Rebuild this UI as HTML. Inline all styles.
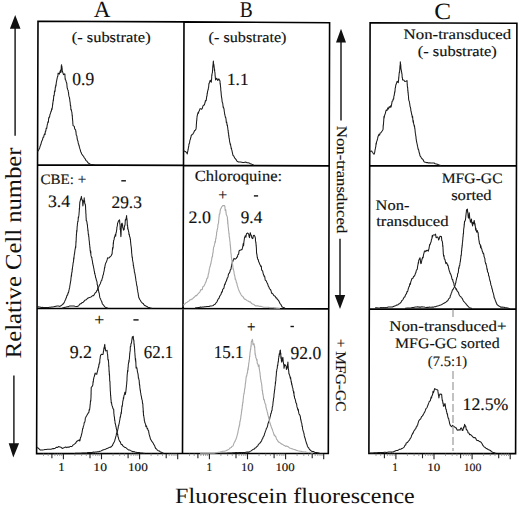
<!DOCTYPE html>
<html><head><meta charset="utf-8"><style>
html,body{margin:0;padding:0;background:#fff;}
svg{display:block;}
</style></head><body>
<svg width="520" height="506" viewBox="0 0 520 506">
<rect width="520" height="506" fill="#fff"/>
<g fill="none" stroke="#000" stroke-width="1.6">
<path d="M38 21.3 L184 21.9 L329.6 22.7 L328.3 453.5 L182.5 453.5 L36.6 453.6 Z M184 21.9 L182.5 453.5 M37.4 164.9 L329.2 165.9 M37 308.2 L328.9 308.9"/>
<path d="M370.1 22.8 L516.9 23.3 L515.6 453.6 L368.9 453.5 Z M369.7 165.6 L516.5 165.9 M369.4 309 L516 309.1"/>
</g>
<path d="M51.9 453.7V458.2 M63.4 453.7V459.3 M90.0 453.7V458.2 M101.5 453.7V459.3 M128.1 453.7V458.2 M139.6 453.7V459.3 M166.2 453.7V458.2 M177.7 453.7V459.3 M197.9 453.7V458.2 M209.4 453.7V459.3 M236.0 453.7V458.2 M247.5 453.7V459.3 M274.1 453.7V458.2 M285.6 453.7V459.3 M312.2 453.7V458.2 M323.7 453.7V459.3 M384.4 453.7V458.2 M395.9 453.7V459.3 M422.5 453.7V458.2 M434.0 453.7V459.3 M460.6 453.7V458.2 M472.1 453.7V459.3 M498.7 453.7V458.2 M510.2 453.7V459.3" stroke="#222" stroke-width="1.1" fill="none"/>
<path d="M43.5 453.7V455.9 M48.2 453.7V455.9 M54.9 453.7V455.9 M57.5 453.7V455.9 M59.7 453.7V455.9 M61.7 453.7V455.9 M74.9 453.7V455.9 M81.6 453.7V455.9 M86.3 453.7V455.9 M93.0 453.7V455.9 M95.6 453.7V455.9 M97.8 453.7V455.9 M99.8 453.7V455.9 M113.0 453.7V455.9 M119.7 453.7V455.9 M124.4 453.7V455.9 M131.1 453.7V455.9 M133.7 453.7V455.9 M135.9 453.7V455.9 M137.9 453.7V455.9 M151.1 453.7V455.9 M157.8 453.7V455.9 M162.5 453.7V455.9 M169.2 453.7V455.9 M171.8 453.7V455.9 M174.0 453.7V455.9 M176.0 453.7V455.9 M189.5 453.7V455.9 M194.2 453.7V455.9 M200.9 453.7V455.9 M203.5 453.7V455.9 M205.7 453.7V455.9 M207.7 453.7V455.9 M220.9 453.7V455.9 M227.6 453.7V455.9 M232.3 453.7V455.9 M239.0 453.7V455.9 M241.6 453.7V455.9 M243.8 453.7V455.9 M245.8 453.7V455.9 M259.0 453.7V455.9 M265.7 453.7V455.9 M270.4 453.7V455.9 M277.1 453.7V455.9 M279.7 453.7V455.9 M281.9 453.7V455.9 M283.9 453.7V455.9 M297.1 453.7V455.9 M303.8 453.7V455.9 M308.5 453.7V455.9 M315.2 453.7V455.9 M317.8 453.7V455.9 M320.0 453.7V455.9 M322.0 453.7V455.9 M376.0 453.7V455.9 M380.7 453.7V455.9 M387.4 453.7V455.9 M390.0 453.7V455.9 M392.2 453.7V455.9 M394.2 453.7V455.9 M407.4 453.7V455.9 M414.1 453.7V455.9 M418.8 453.7V455.9 M425.5 453.7V455.9 M428.1 453.7V455.9 M430.3 453.7V455.9 M432.3 453.7V455.9 M445.5 453.7V455.9 M452.2 453.7V455.9 M456.9 453.7V455.9 M463.6 453.7V455.9 M466.2 453.7V455.9 M468.4 453.7V455.9 M470.4 453.7V455.9 M483.6 453.7V455.9 M490.3 453.7V455.9 M495.0 453.7V455.9 M501.7 453.7V455.9 M504.3 453.7V455.9 M506.5 453.7V455.9 M508.5 453.7V455.9" stroke="#8a8a8a" stroke-width="0.9" fill="none"/>
<polyline points="37.5,151.8 38.8,149.8 39.2,148.8 39.7,148.0 40.1,146.2 40.5,145.4 40.9,144.3 41.3,142.6 41.7,141.1 42.1,140.6 42.5,139.8 42.9,137.9 43.3,137.1 43.7,137.1 44.1,134.9 44.6,133.9 45.0,134.6 45.4,131.1 45.8,131.2 46.2,128.3 46.4,128.2 46.7,128.5 46.9,127.3 47.2,125.0 47.4,124.3 47.6,123.7 47.9,121.8 48.1,122.0 48.4,122.2 48.6,118.8 48.9,117.4 49.1,117.9 49.4,116.7 49.6,117.0 49.9,114.7 50.3,113.7 50.7,112.6 51.1,111.0 51.4,111.1 51.7,108.6 52.0,109.4 52.3,107.5 52.4,106.8 52.6,104.8 52.7,103.4 52.8,104.4 52.9,102.2 53.1,101.7 53.2,99.8 53.4,100.6 53.6,97.7 53.8,95.4 54.1,95.8 54.3,94.5 54.5,91.0 54.7,91.8 54.9,91.7 55.1,90.6 55.2,88.6 55.4,86.8 55.6,87.3 55.8,84.8 56.0,86.0 56.2,83.5 56.4,81.9 56.6,81.1 56.8,79.9 57.0,79.1 57.2,77.8 57.4,77.1 57.7,76.6 57.9,75.8 58.1,73.1 59.3,74.1 59.6,73.3 59.8,72.5 60.1,71.3 60.8,69.9 60.9,72.4 61.1,68.7 61.2,70.2 61.3,66.0 61.5,65.2 61.6,64.7 61.7,65.9 61.9,66.5 62.0,69.2 62.1,67.8 62.3,71.8 62.4,71.1 63.5,74.7 64.7,73.8 64.9,74.0 65.0,76.8 65.2,79.5 65.3,78.5 65.5,79.7 65.8,80.3 66.0,80.9 66.2,82.0 66.5,82.5 66.8,83.5 67.0,85.9 67.2,88.2 67.4,88.2 67.6,89.2 67.9,90.0 68.1,90.0 68.3,91.9 68.5,92.3 68.7,94.6 68.9,95.9 69.2,97.0 69.4,97.3 69.6,99.0 69.7,98.7 69.8,100.3 69.9,101.3 70.1,101.9 70.2,102.9 70.3,104.2 70.4,105.6 70.7,105.6 70.9,109.6 71.2,109.3 71.4,110.2 71.7,111.7 71.9,112.2 72.0,113.7 72.1,114.7 72.2,115.9 72.3,114.9 72.4,118.2 72.5,118.6 72.6,120.0 72.7,120.9 72.8,121.8 72.8,123.6 72.9,123.5 73.0,125.1 73.1,125.6 74.3,126.4 74.7,128.9 75.2,129.5 75.6,129.7 75.8,131.2 75.9,131.8 76.0,132.1 76.2,134.7 76.4,135.2 76.7,135.7 76.9,136.1 77.2,139.0 77.4,139.6 77.6,140.5 77.9,140.9 78.1,142.2 78.4,143.8 78.6,143.9 78.9,145.3 79.1,145.7 79.4,147.2 79.6,147.7 79.9,148.9 80.3,149.9 80.6,151.4 81.0,152.2 81.3,152.8 81.7,154.0 82.3,154.8 82.9,155.6 83.5,156.1 84.1,157.5 84.8,158.3 85.4,159.2 86.0,160.6 86.8,161.0 87.6,162.3 88.4,163.0 89.7,164.0 90.9,164.3 92.1,164.5 93.3,164.7 94.5,164.8" fill="none" stroke="#1a1a1a" stroke-width="1.05" stroke-linejoin="round"/>
<polyline points="183.0,150.5 184.7,151.3 185.3,151.5 186.0,152.0 186.7,152.7 187.3,153.9 187.5,152.5 187.7,151.4 187.9,151.0 188.0,150.0 188.2,149.2 188.4,147.6 188.6,147.0 188.8,145.9 188.9,144.3 189.1,144.2 189.3,143.1 189.5,143.2 189.8,141.0 190.1,139.7 190.4,139.3 190.7,137.7 191.0,137.0 191.3,135.2 192.0,134.7 192.6,134.4 193.2,133.4 193.9,132.3 194.6,130.5 195.3,130.3 196.0,128.9 196.1,128.3 196.2,127.0 196.3,126.6 196.3,124.9 196.4,124.0 196.5,123.3 196.6,121.2 196.7,120.6 196.8,119.6 196.8,120.3 196.9,117.8 197.0,117.4 197.1,116.3 197.5,114.6 198.0,112.6 198.4,113.3 198.9,111.2 199.3,110.9 200.0,108.7 200.8,108.7 201.5,109.3 202.2,108.7 203.0,105.8 203.7,105.1 204.0,105.1 204.4,104.8 204.8,103.4 205.1,102.5 205.4,100.6 205.8,100.9 206.2,100.4 206.5,98.1 206.7,96.3 206.8,95.8 207.0,96.1 207.2,93.0 207.4,93.4 207.5,91.6 207.7,91.3 207.9,90.2 208.1,89.4 208.2,89.7 208.4,87.7 208.6,87.5 208.8,85.2 208.9,83.9 209.1,83.6 210.2,80.2 211.3,82.2 211.4,81.3 211.5,79.0 211.6,79.5 211.7,77.5 211.8,74.7 211.9,75.8 212.0,74.0 212.1,73.4 212.2,72.7 212.4,73.1 212.5,70.9 212.6,69.8 212.7,69.1 212.8,65.9 212.9,67.9 213.0,64.6 213.1,65.0 213.2,62.4 213.3,61.5 213.4,61.1 213.5,64.4 213.7,64.3 213.8,64.0 213.9,65.3 214.0,65.5 214.2,67.6 214.3,68.1 214.4,70.4 214.6,69.4 214.7,71.4 214.8,71.9 215.0,73.1 215.1,75.5 215.2,75.9 215.3,77.4 215.5,79.0 215.6,80.0 216.7,78.2 217.8,80.5 218.9,78.9 220.0,81.0 220.1,83.9 220.2,83.0 220.3,83.8 220.4,85.3 220.5,86.2 220.6,87.3 220.7,87.6 220.8,90.2 220.9,91.1 221.0,91.2 221.1,92.6 221.2,93.9 221.3,95.3 221.4,95.8 221.5,97.0 221.6,97.3 221.7,97.6 221.9,99.1 222.1,101.3 222.3,102.3 222.5,102.6 222.7,103.1 222.9,104.7 223.1,106.8 223.3,107.5 223.5,107.0 223.7,108.5 223.9,108.4 224.1,109.7 224.3,111.6 224.5,112.5 224.7,114.2 225.0,115.4 225.2,116.1 225.4,117.5 225.6,117.2 225.8,117.8 226.1,119.9 226.3,122.4 226.5,121.9 226.7,121.9 226.9,123.8 227.2,125.6 227.4,125.0 227.6,127.2 227.7,127.3 227.9,129.5 228.0,130.2 228.2,131.0 228.3,133.0 228.4,132.6 228.6,133.5 228.7,135.9 228.9,135.4 229.0,138.1 229.1,137.9 229.3,138.4 229.4,140.0 229.6,141.0 229.7,142.1 230.0,142.9 230.2,144.5 230.5,143.9 230.7,145.8 231.0,146.9 231.2,148.8 231.5,148.2 231.7,149.9 232.0,150.6 232.2,151.8 232.5,153.2 232.7,154.1 233.0,155.5 233.6,155.7 234.2,156.9 234.8,158.1 235.5,158.9 236.1,159.6 236.7,160.8 237.3,161.3 238.4,162.0 239.5,161.9 240.6,162.0 241.7,162.2 242.8,162.4 243.8,162.5 244.9,162.2 246.0,162.1 247.1,162.7 248.2,162.8 249.3,163.1 250.4,163.8 251.6,164.1 252.8,164.7 254.0,165.0" fill="none" stroke="#1a1a1a" stroke-width="1.05" stroke-linejoin="round"/>
<polyline points="370.0,151.5 371.7,151.0 372.4,152.2 373.0,153.0 373.6,154.0 374.3,154.0 374.5,153.4 374.7,152.2 374.9,151.1 375.0,150.2 375.2,149.3 375.4,148.4 375.6,147.2 375.8,146.8 375.9,145.3 376.1,143.1 376.3,144.2 376.5,142.4 376.8,141.1 377.1,140.5 377.4,139.4 377.7,138.2 378.0,136.6 378.3,136.1 378.9,134.3 379.6,135.2 380.2,132.9 380.9,132.7 381.6,131.7 382.3,130.7 383.0,129.4 383.1,128.8 383.2,125.3 383.3,126.4 383.3,125.3 383.4,124.1 383.5,124.4 383.6,121.8 383.7,121.4 383.8,119.0 383.8,119.6 383.9,117.3 384.0,116.3 384.1,118.1 384.5,115.8 385.0,114.2 385.4,113.2 385.9,110.9 386.3,110.1 387.0,110.5 387.8,107.9 388.5,109.0 389.2,106.7 390.0,107.4 390.7,105.7 391.1,107.0 391.4,105.5 391.8,103.3 392.1,101.3 392.4,101.2 392.8,100.8 393.1,99.1 393.5,99.2 393.7,98.8 393.8,96.9 394.0,95.6 394.2,95.6 394.4,93.7 394.5,93.6 394.7,91.6 394.9,92.3 395.1,89.6 395.2,87.9 395.4,87.9 395.6,86.3 395.8,85.0 395.9,84.7 396.1,84.5 397.2,81.2 398.3,82.6 398.4,81.5 398.5,80.5 398.6,80.3 398.7,77.3 398.8,78.1 398.9,76.3 399.0,75.5 399.1,74.2 399.2,73.0 399.4,71.8 399.5,71.7 399.6,72.4 399.7,70.3 399.8,69.1 399.9,67.7 400.0,65.6 400.1,65.7 400.2,66.2 400.3,61.7 400.4,62.9 400.5,64.1 400.7,64.3 400.8,65.9 400.9,67.5 401.0,69.4 401.2,69.5 401.3,70.8 401.4,70.5 401.6,72.1 401.7,72.4 401.8,73.6 402.0,73.9 402.1,76.0 402.2,77.8 402.3,77.2 402.5,78.7 402.6,80.0 403.7,80.0 404.8,81.4 405.9,81.3 407.0,80.6 407.1,81.7 407.2,84.4 407.3,85.3 407.4,86.8 407.5,87.0 407.6,88.0 407.7,87.4 407.8,91.1 407.9,90.1 408.0,92.8 408.1,91.9 408.2,93.4 408.3,95.1 408.4,95.6 408.5,96.4 408.6,98.8 408.7,99.6 408.9,100.4 409.1,100.8 409.3,101.4 409.5,102.7 409.7,103.7 409.9,105.1 410.1,106.7 410.3,107.0 410.5,107.5 410.7,108.6 410.9,111.0 411.1,111.2 411.3,112.3 411.5,113.3 411.7,114.5 412.0,115.2 412.2,117.0 412.4,117.7 412.6,116.2 412.8,119.1 413.1,122.2 413.3,120.4 413.5,122.3 413.7,123.9 413.9,124.3 414.2,126.1 414.4,125.5 414.6,126.5 414.7,128.2 414.9,128.9 415.0,129.7 415.2,131.7 415.3,132.6 415.4,133.4 415.6,134.2 415.7,135.6 415.9,136.4 416.0,137.1 416.1,138.8 416.3,139.7 416.4,140.6 416.6,141.9 416.7,142.1 417.0,143.5 417.2,144.4 417.5,146.2 417.7,146.8 418.0,148.5 418.2,149.3 418.5,149.5 418.7,150.2 419.0,151.8 419.2,152.5 419.5,153.5 419.7,154.2 420.0,155.8 420.6,156.6 421.2,157.6 421.8,158.5 422.5,159.1 423.1,159.7 423.7,161.1 424.3,162.0 425.4,162.2 426.5,162.6 427.6,162.6 428.7,163.1 429.8,162.8 430.9,162.9 431.9,162.9 433.0,162.9 434.1,163.0 435.2,163.7 436.3,163.9 437.4,164.2 438.6,164.8 439.8,165.2 441.0,165.6" fill="none" stroke="#1a1a1a" stroke-width="1.05" stroke-linejoin="round"/>
<polyline points="37.5,306.5 38.8,307.0 40.0,307.1 41.1,307.4 42.2,307.3 43.2,307.4 44.3,307.6 45.4,307.5 46.5,307.6 47.5,307.6 48.5,307.5 49.5,307.3 50.6,307.3 51.6,307.0 52.6,307.0 53.6,306.8 54.8,306.5 56.0,306.2 57.2,306.0 58.4,306.0 60.0,306.4 60.9,305.7 61.8,305.1 62.6,304.2 63.5,303.8 64.0,302.8 64.5,301.9 65.1,300.4 65.6,299.5 66.1,298.0 66.5,297.4 66.8,295.9 67.2,295.1 67.6,295.1 68.0,292.8 68.3,293.0 68.7,291.8 68.9,290.5 69.1,289.7 69.3,288.7 69.6,287.9 69.8,286.2 70.0,285.0 70.2,283.9 70.4,282.6 70.5,282.1 70.7,280.7 70.8,280.6 71.0,278.1 71.1,277.5 71.2,276.5 71.4,274.9 71.5,276.1 71.7,272.6 71.8,272.8 72.0,271.7 72.1,272.0 72.2,268.7 72.4,269.6 72.5,267.4 72.7,266.7 72.8,265.4 72.9,265.2 73.1,263.0 73.2,262.6 73.4,261.9 73.5,261.9 73.7,257.8 73.8,259.5 74.0,258.0 74.1,255.9 74.2,255.4 74.4,253.7 74.5,254.2 74.7,252.1 74.9,250.8 75.0,249.8 75.2,248.8 75.4,247.8 75.6,246.3 75.7,247.6 75.9,243.5 76.0,241.0 76.0,242.8 76.1,241.7 76.1,241.1 76.2,239.5 76.2,238.5 76.2,237.9 76.3,237.3 76.4,235.1 76.4,234.1 76.5,235.0 76.6,232.8 76.7,230.4 76.8,232.3 77.0,229.9 77.1,227.6 77.2,226.0 77.3,226.3 77.4,224.2 77.6,222.9 77.7,221.6 77.9,221.3 78.0,221.7 78.2,219.2 78.3,217.1 78.5,218.0 78.7,216.3 78.8,215.9 78.9,215.2 79.1,212.7 79.2,211.7 79.3,210.8 79.3,208.6 79.4,209.4 79.5,209.1 79.6,206.8 79.6,205.3 79.7,204.3 79.8,202.7 80.0,201.5 80.3,200.8 80.5,199.2 81.0,198.6 81.4,196.4 81.8,199.5 82.2,200.2 82.4,200.1 82.6,200.1 82.7,203.6 82.9,205.9 83.2,202.7 83.6,201.6 83.8,200.4 84.0,200.5 84.2,197.7 84.4,200.9 84.6,200.8 84.7,203.3 84.9,203.5 85.1,204.4 85.3,204.2 85.5,206.1 85.6,207.6 85.6,209.5 85.7,210.1 85.8,210.2 85.8,212.3 85.9,213.9 86.0,213.8 86.0,214.5 86.0,215.6 86.1,217.7 86.2,218.5 86.2,218.1 86.2,220.3 86.3,220.6 86.8,221.3 87.2,224.1 87.3,224.8 87.4,224.5 87.5,226.2 87.6,227.7 87.7,227.7 87.8,229.2 87.9,231.0 88.0,229.8 88.2,232.7 88.3,234.1 88.5,234.9 88.6,234.3 88.7,236.7 88.9,236.8 89.0,239.0 89.1,240.1 89.2,240.8 89.3,241.1 89.4,242.4 89.5,244.6 89.6,244.3 89.8,246.4 89.9,247.5 90.0,247.9 90.2,251.0 90.3,250.3 90.5,252.9 90.6,250.8 90.8,251.7 90.9,255.1 91.1,255.9 91.3,256.3 91.5,257.5 91.8,257.3 92.0,259.3 92.2,260.1 92.5,261.7 92.7,263.5 92.9,264.0 93.1,265.3 93.3,265.7 93.5,267.0 93.8,268.4 94.0,269.3 94.2,271.3 94.4,271.1 94.6,273.8 94.8,273.1 95.1,275.3 95.3,275.2 95.6,277.6 95.8,277.7 96.1,278.8 96.3,280.0 96.5,280.4 96.8,281.2 97.0,281.8 97.2,284.6 97.4,284.7 97.6,285.8 97.9,287.2 98.1,289.2 98.3,288.6 98.5,290.6 98.7,291.4 98.9,292.8 99.2,293.0 99.4,294.6 99.6,296.1 99.8,297.4 100.2,298.4 100.5,298.6 100.9,299.9 101.3,300.8 101.7,301.5 102.0,302.5 102.4,304.0 103.1,304.7 103.8,305.5 104.6,306.6 105.3,307.2 106.7,307.8 108.0,308.3" fill="none" stroke="#1a1a1a" stroke-width="1.05" stroke-linejoin="round"/>
<polyline points="62.0,308.0 63.1,308.0 64.1,307.6 65.2,307.3 66.2,307.1 67.3,306.8 68.3,306.7 69.4,306.1 70.4,305.9 71.6,305.9 72.7,305.9 73.8,306.1 75.0,306.3 76.2,306.4 77.3,306.5 78.2,306.1 79.0,305.3 79.9,304.1 80.8,303.8 81.7,303.0 82.5,302.4 83.3,302.2 84.2,301.1 85.1,300.0 86.0,300.0 86.8,299.2 87.7,298.2 88.8,297.7 90.0,297.3 91.1,296.9 92.0,296.1 92.8,295.6 93.7,295.6 94.6,294.0 95.1,293.1 95.6,292.5 96.2,292.2 96.7,290.6 97.2,290.6 97.7,288.4 98.2,287.5 98.8,286.9 99.3,285.4 99.8,284.5 100.2,284.0 100.5,283.2 100.9,281.9 101.3,280.7 101.7,280.6 102.0,279.1 102.4,277.8 102.6,277.6 102.9,275.4 103.1,275.0 103.4,274.3 103.6,273.0 103.9,271.6 104.1,271.2 104.3,269.7 104.4,268.6 104.6,267.4 104.8,267.8 105.0,265.6 105.1,265.8 105.3,264.3 105.8,262.8 106.2,262.4 106.7,261.1 107.1,259.9 107.6,257.8 108.5,258.0 109.3,257.7 110.2,256.6 110.8,256.1 111.3,255.6 111.9,254.0 112.1,254.1 112.3,250.5 112.4,250.4 112.6,247.6 112.8,249.1 112.9,247.5 113.1,247.7 113.2,245.0 113.3,242.6 113.4,244.2 113.6,241.1 113.7,240.1 113.9,240.0 114.1,239.6 114.3,237.7 114.5,237.3 115.5,234.2 115.7,236.2 115.9,233.5 116.2,232.5 116.4,231.8 116.6,230.3 116.8,229.2 116.9,227.1 117.1,226.7 117.2,226.2 117.4,225.6 117.5,223.5 117.9,222.6 118.2,221.7 118.6,220.8 119.5,219.8 119.6,220.5 119.7,221.4 119.8,224.0 120.0,224.3 120.1,225.2 120.2,229.4 120.3,228.1 120.4,229.2 120.4,229.6 120.5,229.6 120.6,232.6 120.7,232.6 120.7,233.7 120.8,235.6 120.9,236.7 121.0,235.0 121.0,233.8 121.1,234.6 121.1,232.2 121.2,229.8 121.2,230.4 121.2,228.8 121.3,227.7 121.3,227.3 121.4,225.8 121.5,226.5 121.5,223.8 122.2,223.2 122.4,225.2 122.6,224.8 122.7,227.4 122.9,227.6 123.5,230.1 124.0,229.7 124.2,229.6 124.3,226.7 124.5,226.6 124.6,225.9 124.8,225.2 124.9,225.4 125.1,224.1 125.3,220.0 125.6,219.4 125.8,220.1 126.2,218.3 126.6,215.6 126.7,218.4 126.8,218.0 127.0,219.3 127.1,220.0 127.2,222.1 127.3,225.5 127.5,224.9 127.6,225.6 127.7,229.0 127.9,227.5 128.0,228.9 128.3,229.8 128.5,231.5 128.8,232.0 129.0,234.6 129.3,234.1 129.5,236.0 129.7,236.8 129.9,236.9 130.1,237.9 130.3,239.8 130.4,238.9 130.6,241.9 130.7,242.9 130.8,244.0 130.9,244.9 131.1,246.3 131.2,246.7 131.3,248.5 131.4,247.8 131.5,250.8 131.6,250.5 131.6,252.6 131.7,253.0 131.8,254.0 131.9,254.8 132.1,257.4 132.2,256.7 132.4,257.7 132.5,259.7 132.7,260.8 132.9,261.7 133.0,262.0 133.2,263.3 133.3,265.4 133.5,265.1 133.7,267.2 133.9,268.3 134.0,269.0 134.2,269.2 134.4,272.1 134.6,272.1 134.8,273.1 134.9,273.8 135.1,274.5 135.3,276.0 135.5,277.3 135.6,277.7 135.8,279.3 136.0,280.9 136.2,281.5 136.3,282.3 136.5,283.9 136.7,284.9 136.8,285.9 137.0,286.1 137.2,286.7 137.3,288.9 137.5,289.6 137.7,290.5 137.8,291.9 138.0,292.6 138.2,293.5 138.4,295.5 138.5,295.3 138.7,297.2 139.2,298.3 139.7,299.5 140.3,300.1 140.8,301.2 141.3,301.9 142.2,303.0 143.1,303.4 143.9,304.6 144.8,305.6 145.9,306.1 146.9,306.5 148.0,307.2 149.1,307.5 150.6,308.0 152.0,308.3" fill="none" stroke="#1a1a1a" stroke-width="1.05" stroke-linejoin="round"/>
<polyline points="195.0,307.9 196.1,307.8 197.2,307.8 198.3,307.4 199.3,307.4 200.4,307.0 201.5,307.3 202.6,307.0 203.7,307.1 204.8,306.8 205.8,306.8 206.9,306.6 208.0,306.5 209.1,306.5 210.2,306.0 211.2,305.9 212.3,305.8 213.4,305.4 214.2,304.5 215.1,304.3 215.9,303.0 216.7,302.1 217.2,301.3 217.6,300.2 218.1,299.3 218.6,298.4 219.1,298.2 219.5,296.6 220.0,295.8 220.5,295.0 220.9,294.6 221.4,292.8 221.8,291.7 222.3,292.0 222.7,289.4 223.2,288.9 223.6,288.4 223.9,288.2 224.3,285.8 224.7,284.1 225.0,284.6 225.4,283.0 225.8,282.1 226.1,281.6 226.5,280.5 226.9,279.5 227.2,278.0 227.6,277.9 228.0,276.9 228.3,275.0 228.7,273.6 229.2,273.3 229.8,272.0 230.3,270.0 230.8,269.3 231.0,269.2 231.2,267.4 231.5,266.1 231.7,265.4 231.9,264.1 232.2,263.1 232.4,260.7 232.6,262.1 233.3,260.1 234.0,258.4 235.2,259.2 236.4,258.3 236.8,257.2 237.1,257.0 237.5,256.9 237.8,254.7 238.2,254.6 238.6,254.1 239.1,250.8 239.6,250.3 240.0,250.4 241.2,249.7 241.6,249.6 242.0,249.6 242.4,248.2 242.8,246.7 243.2,243.6 243.6,245.8 243.8,243.1 243.9,242.1 244.1,240.7 244.5,237.7 244.9,236.8 245.3,235.8 245.9,237.2 246.5,233.7 247.7,233.0 248.7,234.2 249.0,235.9 249.2,236.8 249.5,237.6 249.9,235.3 250.3,232.7 250.7,234.5 251.5,235.8 251.8,237.8 252.1,237.8 252.4,238.6 252.9,238.3 253.4,235.5 254.2,235.3 254.8,236.2 255.4,238.2 255.5,240.9 255.6,241.0 255.8,242.5 255.9,242.9 256.0,244.1 256.1,244.6 256.1,245.8 256.2,245.1 256.3,247.1 256.4,248.1 256.5,250.8 256.5,251.7 256.6,253.1 256.8,254.4 256.9,254.0 257.1,256.0 257.3,257.7 257.5,257.3 257.6,259.1 257.8,259.2 258.2,259.4 258.7,261.8 259.1,262.4 259.7,264.2 260.2,264.9 260.8,266.5 261.3,266.0 261.6,269.8 262.0,270.4 262.4,270.4 262.7,271.2 263.0,272.8 263.4,274.3 263.8,275.2 264.1,276.3 264.5,276.0 264.9,277.6 265.2,280.0 265.6,280.5 266.2,280.7 266.7,282.2 267.2,283.0 267.8,284.3 268.4,286.4 268.9,286.8 269.4,288.5 270.0,289.2 270.5,289.5 271.1,291.0 271.6,293.3 272.1,293.2 272.9,293.9 273.8,295.6 274.6,295.9 275.4,296.7 276.1,298.1 276.7,297.9 277.4,299.5 278.0,299.9 278.7,300.7 279.2,301.8 279.8,303.2 280.3,303.8 280.8,304.3 281.4,305.4 281.9,306.7 282.9,307.2 284.0,307.6 285.0,308.3" fill="none" stroke="#1a1a1a" stroke-width="1.05" stroke-linejoin="round"/>
<polyline points="375.0,308.0 376.0,307.8 377.0,307.8 378.0,307.9 379.0,308.0 380.0,307.8 381.1,307.5 382.1,307.7 383.1,307.5 384.1,307.7 385.1,307.5 386.1,307.7 387.1,307.4 388.2,307.1 389.2,306.9 390.3,306.9 391.3,306.9 392.4,306.9 393.5,306.4 394.6,305.9 395.6,305.7 396.7,305.0 397.8,305.0 398.7,303.9 399.6,303.7 400.4,302.8 401.3,301.8 401.9,300.5 402.5,300.1 403.1,299.2 403.7,298.0 404.3,297.1 404.9,296.9 405.4,295.2 405.9,294.4 406.5,293.7 407.0,291.5 407.5,291.8 407.9,290.4 408.3,288.7 408.7,287.6 409.0,286.4 409.4,286.4 409.8,283.7 410.2,284.5 410.6,283.0 410.9,281.5 411.3,280.5 411.6,279.5 412.0,278.5 412.9,278.2 413.7,276.3 414.3,276.3 414.9,275.0 415.5,273.1 415.9,272.6 416.2,270.8 416.6,270.2 416.9,269.4 417.3,269.2 417.5,267.0 417.7,265.9 417.9,265.0 418.1,263.8 418.3,262.2 418.5,263.2 418.7,260.5 419.4,259.1 420.0,257.7 420.3,259.8 420.6,262.5 420.9,263.6 421.2,263.3 421.5,261.8 421.8,260.5 422.0,258.7 422.3,258.9 422.6,257.2 423.1,257.7 423.5,254.9 423.9,253.3 424.4,251.5 425.1,250.7 425.8,251.6 426.5,250.5 427.2,250.2 428.0,250.8 428.3,251.2 428.6,249.7 428.9,249.1 429.1,247.9 429.4,246.2 429.7,244.4 430.0,244.9 430.3,243.8 430.6,242.8 430.9,242.4 431.2,241.3 431.5,239.1 431.9,238.9 432.2,235.5 432.6,236.9 432.9,235.2 433.3,235.1 435.1,234.8 435.5,234.1 435.8,235.7 436.1,237.8 436.5,237.3 437.7,237.0 438.1,237.7 438.6,240.0 439.3,238.5 440.0,236.2 441.3,236.6 441.5,237.0 441.8,240.6 442.0,240.6 442.3,241.5 442.5,242.7 442.6,243.4 442.7,245.7 442.8,246.7 442.9,245.5 443.0,248.2 443.1,249.4 443.1,250.1 443.2,251.4 443.3,253.7 443.4,253.7 443.5,255.4 443.6,256.3 444.0,255.5 444.3,259.0 444.7,259.0 445.0,259.7 445.4,261.6 445.9,263.6 446.5,262.6 447.1,263.7 447.6,265.4 448.0,265.1 448.3,266.6 448.7,268.5 449.1,270.0 449.4,271.0 449.8,272.2 450.2,273.5 450.5,273.6 450.9,274.8 451.3,275.9 451.6,277.0 452.0,278.9 452.4,279.9 452.7,279.4 453.1,281.8 453.4,282.1 453.8,283.1 454.1,285.4 454.6,286.4 455.0,287.2 455.5,287.9 456.0,289.4 456.5,288.9 456.9,290.7 457.4,291.0 457.9,291.9 458.5,292.4 459.0,294.6 459.6,295.6 460.1,296.1 460.7,296.5 461.3,297.6 462.0,298.1 462.6,299.3 463.3,300.7 463.9,301.6 464.6,302.1 465.2,303.0 465.9,303.7 466.5,304.6 467.2,305.4 467.9,306.2 468.6,306.8 469.3,307.7 470.6,308.0 472.0,308.5" fill="none" stroke="#1a1a1a" stroke-width="1.05" stroke-linejoin="round"/>
<polyline points="405.0,308.3 406.0,308.3 407.1,308.1 408.1,308.0 409.2,307.9 410.2,307.9 411.3,307.8 412.3,307.6 413.4,307.5 414.4,307.2 415.5,307.1 416.6,307.0 417.7,306.8 418.7,307.1 419.8,307.1 420.9,307.1 422.0,306.8 423.0,306.9 424.1,307.1 425.1,307.3 426.2,307.4 427.2,307.3 428.2,307.4 429.2,307.1 430.3,307.2 431.3,307.2 432.3,307.0 433.3,307.2 434.4,306.8 435.4,306.7 436.5,306.2 437.5,305.9 438.6,305.7 439.7,305.3 440.7,305.0 441.8,304.5 442.8,303.9 443.9,303.3 444.8,302.7 445.7,302.5 446.6,301.3 447.5,300.9 448.1,300.1 448.8,298.6 449.4,298.2 450.0,297.7 450.3,295.6 450.7,295.2 451.0,294.3 451.3,293.0 451.7,292.5 452.0,291.3 452.5,289.7 452.9,289.8 453.4,288.8 453.8,288.0 454.3,287.3 454.7,285.9 455.2,284.9 455.5,283.1 455.8,282.9 456.0,281.2 456.3,280.2 456.6,278.7 456.8,277.7 457.1,276.9 457.4,276.8 457.6,273.9 457.8,273.3 458.0,273.3 458.2,273.0 458.4,271.5 458.6,269.0 458.8,267.6 459.0,268.4 459.2,266.7 459.4,265.5 459.6,265.8 459.8,264.9 459.9,263.3 460.1,262.4 460.2,261.5 460.4,261.4 460.5,259.7 460.7,258.6 460.8,257.7 461.0,255.1 461.1,256.2 461.3,255.0 461.4,253.7 461.5,250.8 461.6,250.8 461.7,250.9 461.8,247.8 461.9,248.1 462.0,248.0 462.1,245.2 462.2,246.5 462.3,244.6 462.4,243.0 462.5,242.4 462.6,241.7 462.7,240.2 462.8,240.1 462.9,237.5 463.0,236.7 463.1,236.9 463.2,235.1 463.3,233.3 463.4,233.8 463.5,233.3 463.6,230.6 463.7,228.8 463.8,228.8 463.9,227.8 464.0,226.7 464.1,227.2 464.2,224.0 464.3,225.1 464.5,221.6 464.8,221.0 465.0,221.2 465.2,220.6 465.5,219.3 465.7,217.7 465.8,216.5 465.9,215.4 466.0,214.7 466.2,212.9 466.3,212.2 466.4,211.5 466.5,209.8 467.4,209.1 467.5,209.9 467.6,212.3 467.7,211.7 467.8,211.9 467.9,213.0 468.0,214.4 468.1,216.3 468.2,216.1 468.3,217.8 468.8,218.1 469.3,212.7 469.5,215.2 469.7,217.6 469.9,218.8 470.0,219.8 470.2,220.2 470.4,222.3 470.9,220.9 471.5,219.1 471.7,223.0 471.9,222.1 472.1,222.3 472.2,223.8 472.4,224.8 472.6,226.0 472.9,222.5 473.3,223.5 473.6,223.8 474.0,220.7 474.3,220.6 474.5,222.7 474.7,223.7 474.8,225.3 475.0,223.5 475.2,225.8 475.4,226.9 475.5,228.8 475.7,230.3 475.9,228.0 476.6,232.1 477.3,230.6 478.0,233.2 478.1,232.4 478.3,234.9 478.4,236.9 478.6,236.8 478.7,238.2 478.8,239.8 479.0,240.3 479.1,241.2 479.5,243.6 479.8,244.3 480.2,244.3 480.6,247.8 480.9,245.8 481.3,248.5 481.7,248.7 482.0,250.1 482.4,251.6 482.8,252.3 483.1,253.7 483.5,253.2 483.8,254.3 484.1,256.9 484.3,256.9 484.6,257.9 484.9,258.7 485.1,261.7 485.4,262.4 485.7,264.0 486.0,263.5 486.2,265.2 486.5,265.5 486.8,267.8 487.0,269.4 487.3,269.0 487.5,271.6 487.8,272.3 488.1,272.7 488.4,272.7 488.6,275.8 488.9,276.0 489.2,276.8 489.4,278.4 489.7,279.5 490.0,281.2 490.3,281.0 490.6,283.2 490.8,284.4 491.1,285.5 491.4,285.8 491.6,286.6 491.9,288.5 492.2,289.2 492.5,290.2 492.7,291.9 493.0,292.3 493.2,292.5 493.5,294.4 493.8,294.9 494.0,297.0 494.3,297.9 494.7,298.5 495.1,299.7 495.5,300.8 495.8,301.5 496.2,302.8 496.6,303.4 497.0,304.5 498.0,305.3 498.9,306.0 499.9,306.4 500.9,307.3 502.0,307.1 503.0,307.3 504.1,307.3 505.2,307.7 506.4,307.7 507.6,308.0 508.8,308.3 510.0,308.5" fill="none" stroke="#1a1a1a" stroke-width="1.05" stroke-linejoin="round"/>
<polyline points="37.5,447.1 38.1,448.3 38.9,448.7 39.6,449.5 40.4,450.1 41.6,450.0 42.7,450.0 43.9,449.8 45.0,449.5 46.2,449.4 47.4,449.2 48.5,449.3 49.6,449.2 50.8,449.3 51.9,448.9 53.0,448.6 54.2,448.6 55.3,448.2 56.5,447.2 57.6,447.4 58.8,446.5 59.9,447.1 61.1,447.3 62.2,448.4 63.4,447.9 64.5,447.6 65.7,447.1 66.8,447.6 68.0,446.9 69.1,447.3 70.2,446.4 71.4,446.6 72.3,446.1 73.2,444.9 74.1,444.4 75.0,443.7 75.8,443.0 76.6,441.5 77.4,441.0 78.6,440.3 79.2,439.9 79.7,441.0 80.0,440.3 80.3,438.7 80.6,437.2 80.9,437.2 81.2,435.8 81.5,434.7 81.8,433.5 82.1,432.2 82.4,430.3 82.7,428.3 83.0,428.5 83.3,426.5 83.6,425.9 83.9,424.9 84.2,422.8 84.5,422.2 84.8,422.2 85.1,420.4 85.4,417.8 85.7,417.5 86.1,416.6 86.5,416.0 86.9,415.2 87.8,413.7 88.6,412.7 88.9,412.3 89.2,409.5 89.5,410.1 89.8,408.3 90.0,406.6 90.1,405.3 90.2,404.7 90.4,402.3 90.5,400.5 90.6,401.3 90.8,401.0 90.9,398.5 91.0,397.5 91.0,396.4 91.0,394.6 91.1,394.7 91.1,394.0 91.1,392.3 91.1,392.0 91.2,389.4 91.2,389.4 91.2,387.5 91.7,386.8 92.1,386.5 92.6,385.5 92.8,385.1 92.9,383.9 93.1,381.2 93.3,382.3 93.5,378.8 93.7,379.0 93.8,378.3 94.0,377.0 94.3,376.5 94.7,375.0 95.1,373.0 95.4,373.7 96.8,374.3 97.1,372.3 97.3,372.1 97.6,370.9 97.8,370.1 98.1,368.2 98.3,367.9 98.5,366.6 98.7,367.3 98.9,364.4 99.1,365.0 99.3,362.7 99.5,362.9 99.7,363.0 99.9,359.2 100.1,358.6 100.3,356.5 100.5,355.6 101.0,354.7 101.6,354.3 103.0,354.4 103.2,353.4 103.5,350.9 103.7,350.6 103.9,347.9 104.1,349.0 104.3,347.0 104.6,345.1 104.8,344.4 105.0,346.9 105.2,347.5 105.3,349.2 105.5,349.1 105.7,350.9 106.9,350.5 107.1,350.3 107.3,352.8 107.4,353.9 107.6,354.5 107.8,357.1 107.9,359.5 108.1,359.9 108.2,359.6 108.4,359.6 108.5,361.6 108.6,362.3 108.7,364.1 108.7,366.2 108.8,366.1 108.9,365.8 109.0,369.5 109.0,369.4 109.1,371.7 109.2,370.7 109.3,374.8 109.3,372.4 109.4,374.6 109.5,376.3 109.5,374.2 109.6,376.9 109.6,377.2 109.7,381.1 109.8,381.2 109.8,380.8 109.9,381.1 110.0,382.1 110.0,384.8 110.1,385.0 110.1,387.0 110.2,387.3 110.2,387.4 110.3,391.3 110.4,391.3 110.4,391.3 110.5,392.7 110.5,395.0 110.6,395.6 110.7,395.1 110.8,398.1 110.9,397.6 110.9,399.5 111.0,399.2 111.1,400.6 111.2,402.7 111.5,402.4 111.8,404.6 112.1,406.0 112.4,406.4 113.0,408.7 113.6,409.1 113.7,409.6 113.8,411.5 113.8,412.8 113.9,413.8 114.0,414.0 114.1,415.7 114.2,416.5 114.4,416.6 114.5,418.1 114.7,420.6 114.8,419.9 115.0,421.7 115.1,423.4 115.3,423.3 115.5,424.5 115.7,425.1 115.9,426.7 116.1,426.8 116.3,428.6 116.5,429.0 116.7,430.5 116.9,430.5 117.1,431.8 117.3,433.8 117.5,434.6 117.7,434.0 118.0,436.9 118.3,437.0 118.6,438.6 118.9,439.7 119.2,440.2 119.5,441.2 120.1,441.5 120.7,443.2 121.3,444.5 121.9,444.4 122.9,445.9 123.8,446.6 124.8,447.4 125.7,447.5 126.6,448.4 127.5,449.1 128.4,449.9 129.6,450.0 130.7,450.6 131.9,451.2 132.9,451.7 133.9,451.6 135.0,452.0 136.0,452.2 137.1,452.4 138.2,452.6 139.3,452.6 140.4,452.9 141.6,452.9 142.7,453.1 143.8,453.2 145.0,453.5" fill="none" stroke="#1a1a1a" stroke-width="1.05" stroke-linejoin="round"/>
<polyline points="75.0,453.2 76.0,453.2 77.0,453.2 78.0,453.2 79.0,453.2 80.0,453.2 81.0,453.2 82.0,453.1 83.0,453.0 84.0,453.0 85.0,453.1 86.0,452.9 87.1,452.8 88.1,452.6 89.2,452.6 90.2,452.5 91.2,452.5 92.3,452.4 93.3,452.0 94.4,452.2 95.4,451.9 96.5,451.9 97.5,451.7 98.7,451.7 99.9,451.3 101.1,450.9 102.3,450.3 103.5,449.7 104.7,449.5 105.9,449.0 107.0,448.4 108.2,448.0 110.0,447.1 110.9,447.1 111.8,446.2 112.4,445.7 112.9,444.3 113.5,443.2 114.1,442.1 114.4,441.7 114.7,440.8 115.0,439.5 115.3,438.6 115.6,437.4 115.9,436.3 116.2,435.4 116.4,433.7 116.7,433.1 117.0,432.6 117.2,431.6 117.5,431.1 117.7,429.9 118.0,428.8 118.2,427.7 118.4,425.5 118.7,425.7 118.9,424.2 119.1,424.0 119.3,422.5 119.5,421.5 119.7,420.4 119.9,419.5 120.1,417.5 120.3,416.7 120.4,417.4 120.6,415.9 120.8,414.4 121.0,413.4 121.1,412.4 121.3,413.7 121.5,410.9 121.6,409.6 121.8,408.1 121.9,405.9 122.1,406.6 122.2,406.5 122.4,405.1 122.6,403.7 122.7,402.0 122.9,400.6 123.1,400.5 123.3,399.1 123.4,397.6 123.6,398.6 124.0,395.5 124.4,394.6 124.9,392.2 125.3,394.4 125.8,392.1 125.9,391.0 126.0,390.1 126.2,388.1 126.3,387.1 126.4,386.7 126.5,384.6 126.6,384.5 126.7,384.1 126.7,382.7 126.8,382.2 126.9,380.8 127.0,380.3 127.0,378.0 127.1,377.0 127.2,374.6 127.3,374.4 127.4,372.8 127.5,372.3 127.6,370.4 127.8,370.5 127.9,371.6 128.0,367.4 128.1,367.6 128.2,366.6 128.3,364.3 128.5,363.6 128.6,362.4 128.8,362.3 128.9,360.2 129.0,362.3 129.2,359.6 129.3,358.8 129.4,358.7 129.5,356.9 129.7,354.3 129.8,353.7 129.9,352.3 130.0,351.5 130.2,351.1 130.3,347.0 130.4,346.3 130.6,346.5 130.8,346.2 130.9,344.1 131.1,343.3 131.3,343.5 131.6,342.1 131.8,340.2 132.1,339.0 132.3,336.7 132.7,337.8 133.1,336.3 133.3,336.4 133.4,339.1 133.6,339.5 133.8,340.7 133.9,340.5 134.0,344.3 134.2,343.7 134.3,346.0 134.4,347.0 134.5,347.4 134.6,349.0 134.7,349.9 134.7,350.9 134.8,352.4 134.9,352.7 135.0,355.1 135.0,355.6 135.1,355.4 135.2,358.0 135.3,358.3 135.4,360.2 135.6,358.5 135.7,362.1 135.8,360.7 135.9,363.4 136.1,367.9 136.2,366.5 136.5,368.1 136.8,367.7 137.0,368.5 137.3,370.6 137.5,372.1 137.7,372.6 137.8,373.1 138.0,373.9 138.2,375.4 138.4,378.1 138.5,377.7 138.7,378.4 138.9,379.5 139.0,379.9 139.2,380.6 139.3,382.9 139.5,385.0 139.6,385.3 139.7,384.7 139.9,388.1 140.0,388.1 140.2,390.5 140.3,389.9 140.4,389.9 140.5,392.2 140.7,392.9 140.8,393.2 140.9,394.5 141.2,395.8 141.4,396.5 141.7,398.7 141.9,399.5 142.2,399.9 142.3,401.0 142.5,403.0 142.6,403.6 142.8,403.5 142.9,405.6 143.0,407.6 143.0,407.6 143.1,407.8 143.2,410.4 143.2,412.0 143.3,411.5 143.4,410.9 143.4,412.5 143.5,415.6 143.7,415.4 143.9,417.0 144.1,418.0 144.2,418.9 144.4,420.9 144.6,421.1 144.8,422.5 145.2,423.4 145.6,424.4 145.9,426.6 146.3,425.7 146.7,426.7 147.2,428.8 147.6,428.6 148.1,430.3 148.6,430.6 148.8,432.7 149.0,433.3 149.2,434.7 149.5,435.2 149.7,436.5 149.9,436.7 150.4,438.9 150.9,439.7 151.4,440.5 151.9,441.4 152.5,442.2 153.2,443.1 153.8,444.6 154.3,445.0 154.8,446.1 155.2,447.6 155.7,448.6 156.6,449.0 157.4,450.1 158.3,450.7 159.4,451.0 160.4,451.9 161.5,452.2 162.8,452.9 164.0,453.3" fill="none" stroke="#1a1a1a" stroke-width="1.05" stroke-linejoin="round"/>
<polyline points="220.0,453.2 221.1,453.2 222.2,453.2 223.3,453.2 224.4,453.2 225.5,453.2 226.6,453.2 227.6,453.1 228.7,453.0 229.7,453.0 230.8,452.9 231.8,453.1 232.9,452.8 233.9,452.8 234.9,452.8 235.9,452.6 236.9,452.6 237.9,452.7 238.9,452.6 239.9,452.5 240.9,452.5 241.9,452.4 242.9,452.6 243.9,452.5 245.0,452.6 246.0,452.2 247.0,452.1 248.1,452.1 249.1,452.1 250.1,451.4 251.1,450.9 252.1,450.1 253.1,449.3 254.1,449.3 255.0,448.1 255.9,447.7 256.9,446.5 257.8,445.8 258.4,444.5 259.1,443.8 259.7,443.4 260.3,442.7 261.0,441.6 261.6,440.9 262.1,439.1 262.6,438.8 263.0,437.5 263.5,436.4 264.0,435.9 264.4,434.5 264.7,433.3 265.1,432.4 265.4,431.4 265.8,430.4 266.1,429.5 266.5,428.2 266.9,427.8 267.2,427.1 267.6,425.8 267.9,424.0 268.3,422.8 268.6,422.3 269.0,420.9 269.3,420.8 269.6,419.2 269.8,418.3 270.1,416.7 270.4,416.2 270.7,414.5 270.9,413.2 271.2,413.3 271.5,411.5 271.7,410.7 271.9,410.6 272.1,410.0 272.2,407.9 272.4,406.5 272.6,406.3 272.8,405.4 272.9,404.0 273.1,401.9 273.2,401.1 273.3,401.1 273.5,398.5 273.6,398.3 273.7,398.1 273.9,396.9 274.0,394.5 274.1,393.8 274.3,392.8 274.4,391.1 274.5,391.1 274.6,389.3 274.8,389.5 274.9,387.1 275.0,386.5 275.2,385.5 275.3,385.0 275.4,382.0 275.5,383.8 275.6,381.8 275.7,381.1 275.8,381.1 275.9,379.0 275.9,378.4 276.0,377.1 276.1,376.8 276.2,375.6 276.3,375.0 276.4,373.0 276.5,371.1 276.7,371.2 276.9,369.0 277.1,369.0 277.3,367.6 277.5,365.0 277.7,365.6 277.9,364.0 278.0,362.7 278.2,361.2 278.3,362.3 278.4,361.5 278.5,358.8 278.7,357.9 278.8,357.1 278.9,355.9 279.1,356.4 279.2,353.9 279.6,354.8 280.0,350.5 280.4,350.1 280.5,353.7 280.7,353.6 280.8,353.0 280.9,358.2 281.0,357.8 281.2,358.5 281.3,356.8 281.4,361.1 281.6,361.3 281.7,362.1 282.1,360.7 282.5,358.1 282.9,357.4 283.1,360.0 283.2,361.6 283.4,362.5 283.5,363.3 283.7,364.2 283.9,365.6 284.0,368.3 284.2,367.4 284.8,364.6 285.4,365.3 285.7,365.5 285.9,365.8 286.2,366.6 286.4,369.4 286.7,369.1 286.9,368.5 287.1,366.9 287.3,367.7 287.5,365.2 287.7,364.2 287.9,362.1 288.0,363.4 288.1,366.6 288.2,365.7 288.3,368.6 288.4,369.1 288.6,370.0 288.7,370.9 288.8,371.7 288.9,373.8 289.0,373.9 289.1,373.6 289.8,375.8 290.4,378.6 290.6,377.3 290.8,379.3 291.0,380.2 291.2,382.2 291.4,381.6 291.6,384.4 291.8,383.4 292.0,385.4 292.2,385.4 292.4,387.4 292.6,387.9 292.9,388.2 293.1,390.7 293.4,390.8 293.6,393.1 293.9,391.7 294.1,395.9 294.4,395.7 294.6,398.2 294.9,398.5 295.1,399.1 295.4,399.9 295.6,400.8 295.9,402.8 296.2,403.2 296.5,403.4 296.8,405.3 297.0,406.9 297.3,407.7 297.6,408.9 297.9,410.1 298.3,409.3 298.6,412.0 299.0,413.9 299.3,414.4 299.7,414.9 300.0,415.5 300.4,416.9 300.6,419.4 300.8,419.1 301.0,420.7 301.2,421.4 301.4,422.8 301.6,422.8 301.8,423.5 302.0,425.3 302.2,426.6 302.4,426.3 302.6,428.5 302.8,429.7 303.1,430.5 303.3,431.5 303.6,431.8 303.8,433.2 304.1,434.1 304.3,435.9 304.6,436.7 304.8,437.8 305.1,438.0 305.3,439.1 305.7,440.7 306.0,441.7 306.4,443.1 306.7,443.7 307.1,444.7 307.4,446.2 307.8,446.8 308.6,447.8 309.3,449.1 310.1,450.0 310.8,450.5 311.6,451.3 312.6,451.6 313.6,451.5 314.5,452.2 315.5,452.5 316.5,452.5 317.7,452.8 318.8,453.1 320.0,453.5" fill="none" stroke="#1a1a1a" stroke-width="1.05" stroke-linejoin="round"/>
<polyline points="370.0,453.0 371.0,453.1 372.1,453.1 373.1,452.9 374.1,452.8 375.1,452.8 376.2,452.8 377.2,452.8 378.2,452.6 379.2,452.5 380.3,452.6 381.3,452.6 382.3,452.6 383.3,452.5 384.4,452.3 385.4,452.3 386.5,452.5 387.6,452.2 388.7,452.1 389.8,452.0 390.9,452.1 392.0,452.1 393.1,452.0 394.1,451.5 395.2,451.0 396.2,450.6 397.4,450.4 398.5,449.9 399.6,449.2 400.8,449.3 401.8,448.4 402.8,448.2 403.8,447.3 404.3,446.8 404.8,445.6 405.2,445.0 405.7,445.0 406.2,443.1 407.4,442.6 408.5,441.0 409.1,440.4 409.6,439.8 410.2,438.6 410.8,437.8 411.3,436.7 411.7,435.1 412.2,434.7 412.6,433.0 413.1,433.2 413.9,430.9 414.6,430.3 415.2,429.1 415.8,428.6 416.3,426.8 416.9,426.7 417.3,425.1 417.7,424.8 418.0,423.4 418.4,422.1 418.8,420.6 419.2,420.4 420.0,419.2 420.7,418.9 421.5,416.7 422.3,416.1 423.1,414.9 423.7,413.8 424.2,412.8 424.8,411.9 425.4,410.4 425.8,409.0 426.3,408.2 426.8,407.8 427.2,407.2 427.6,405.9 428.0,405.1 428.4,403.9 428.8,402.9 429.2,401.6 429.7,401.1 430.3,400.8 430.8,398.3 431.2,397.0 431.6,398.0 431.9,395.8 432.3,395.3 432.7,394.0 433.0,391.2 433.4,392.7 434.0,391.1 434.6,388.6 436.2,389.5 437.7,390.1 437.9,390.3 438.0,391.9 438.2,393.2 438.4,394.8 438.6,395.5 438.7,396.0 438.9,397.9 439.3,395.1 439.6,395.0 440.0,394.0 441.4,394.3 441.6,394.2 441.8,395.9 441.9,397.7 442.1,399.0 442.3,400.7 442.5,399.9 442.7,401.6 442.9,403.1 443.0,403.6 443.2,403.0 443.4,406.3 444.1,406.0 444.8,403.8 445.0,403.6 445.3,405.0 445.5,406.6 445.8,409.2 446.0,409.0 446.3,409.8 446.5,411.8 446.7,411.7 447.0,413.9 447.2,413.3 447.5,414.4 447.7,416.1 448.0,417.5 448.2,418.0 448.4,418.7 448.7,418.5 448.9,420.1 449.2,421.1 449.4,422.2 449.7,423.8 449.9,424.2 450.5,425.7 451.0,426.1 451.6,426.7 452.1,426.1 452.7,425.4 453.6,426.5 454.4,426.7 455.3,427.7 456.1,427.7 457.0,429.7 457.8,430.2 459.0,429.8 460.1,430.1 460.6,428.4 461.2,427.9 461.8,428.7 462.3,430.5 462.9,430.4 463.2,428.9 463.6,427.0 463.9,428.0 464.3,426.3 464.6,424.3 465.2,426.2 465.7,426.1 466.3,429.6 466.6,429.4 467.0,430.1 467.3,430.8 467.7,430.9 468.0,432.8 468.9,433.0 469.7,434.8 470.6,434.5 471.7,435.6 472.9,437.0 474.0,437.8 474.8,437.5 475.7,438.2 476.5,440.0 477.4,440.6 478.2,440.5 479.1,441.2 480.8,442.0 481.4,442.7 482.1,443.7 482.7,445.1 483.3,445.8 484.2,447.0 485.0,447.3 485.9,448.2 487.0,448.7 488.2,449.5 489.3,450.0 490.4,450.5 491.6,451.6 492.7,452.3 493.8,452.6 495.0,453.0 496.1,453.3" fill="none" stroke="#1a1a1a" stroke-width="1.05" stroke-linejoin="round"/>
<polyline points="183.5,305.1 184.1,304.5 185.2,303.6 186.2,302.5 187.3,302.2 188.2,301.3 189.1,301.0 189.9,299.9 190.8,299.8 191.7,299.1 192.6,299.0 193.4,297.8 194.3,297.3 195.1,296.2 196.0,295.5 196.7,295.6 197.5,294.3 198.2,293.7 198.9,292.9 199.7,292.4 200.4,290.6 201.0,289.6 201.6,289.7 202.2,289.6 202.9,286.7 203.5,286.3 204.1,285.8 204.7,284.5 205.1,283.7 205.4,282.7 205.8,282.4 206.2,281.0 206.5,280.1 206.9,278.3 207.3,278.4 207.6,278.1 208.0,276.5 208.2,274.9 208.5,273.3 208.7,273.3 208.9,272.3 209.1,270.9 209.4,268.5 209.6,268.5 209.8,267.2 210.0,266.4 210.3,266.1 210.5,264.2 210.7,263.8 210.9,263.9 211.2,261.4 211.4,260.9 211.6,260.4 211.8,258.5 212.0,256.8 212.3,257.1 212.5,256.6 212.7,253.6 212.8,253.6 213.0,252.4 213.1,252.7 213.3,249.4 213.4,249.4 213.6,247.3 213.8,246.7 214.1,246.6 214.3,245.3 214.6,244.4 214.8,243.0 215.1,241.3 215.3,242.4 215.4,241.9 215.6,239.5 215.8,238.2 216.0,238.7 216.1,237.0 216.3,235.7 216.5,235.3 216.6,232.7 216.8,231.7 217.0,231.5 217.2,229.4 217.3,229.4 217.5,228.6 217.7,227.9 217.8,226.9 218.0,224.0 218.1,224.2 218.3,223.7 218.4,223.3 218.6,222.3 218.7,220.0 218.9,219.0 219.0,217.0 219.1,216.7 219.2,215.3 219.4,213.8 219.5,213.8 219.7,214.0 219.9,213.3 220.2,210.9 220.4,209.3 220.8,208.7 221.2,208.2 221.6,207.0 222.8,205.6 224.6,205.6 224.9,206.7 225.2,210.5 225.5,210.5 225.8,209.7 226.0,212.6 226.1,212.2 226.2,214.4 226.4,214.8 227.3,216.8 227.4,217.0 227.4,218.3 227.5,220.0 227.6,221.2 227.7,219.8 227.7,223.8 227.8,221.6 227.9,223.2 228.1,225.2 228.2,227.2 228.3,227.6 228.4,228.2 228.6,230.7 228.7,230.8 228.8,231.7 228.9,233.6 229.1,233.2 229.2,236.8 229.3,237.1 229.4,237.0 229.6,238.1 229.7,239.2 229.8,240.7 229.9,241.5 230.0,241.5 230.1,242.4 230.2,245.2 230.3,244.2 230.4,245.7 230.5,248.3 230.6,247.3 230.7,249.9 230.8,251.4 230.9,253.5 231.0,253.7 231.1,253.8 231.2,254.0 231.3,256.8 231.5,257.8 231.7,259.1 231.8,260.1 232.0,260.0 232.2,260.8 232.3,261.3 232.5,263.4 232.6,264.8 232.7,264.8 232.9,266.5 233.0,268.1 233.2,269.4 233.4,268.9 233.6,270.2 233.8,270.8 234.0,271.8 234.2,273.9 234.4,274.9 234.6,275.1 234.8,276.2 235.0,277.0 235.2,279.3 235.5,278.9 235.8,280.1 236.1,280.8 236.4,282.6 236.7,283.0 236.9,283.2 237.2,285.3 237.5,286.2 237.8,287.0 238.1,288.2 238.4,289.2 238.9,290.2 239.3,291.5 239.8,292.2 240.3,293.3 240.8,294.1 241.2,295.0 241.7,295.7 242.4,296.4 243.1,296.7 243.8,298.2 244.6,299.2 245.3,299.3 246.0,299.7 247.1,300.7 248.2,301.0 249.3,301.9 250.4,301.8 251.3,303.2 252.1,303.8 253.0,304.2 253.8,304.3 254.7,305.3 255.8,305.9 256.9,305.8 258.0,305.9 259.0,306.2 260.1,306.4 261.2,306.4 262.3,306.8 263.4,307.1 264.5,307.2 265.6,307.3 266.7,307.3 267.8,307.2 268.8,307.4 269.9,307.7 271.0,307.6 272.1,307.7 273.2,307.6 274.4,307.9 275.5,307.9 276.6,308.1 277.7,308.1 278.9,308.2 280.0,308.3" fill="none" stroke="#a8a8a8" stroke-width="1.1" stroke-linejoin="round"/>
<polyline points="200.0,453.2 201.0,453.2 202.0,453.2 203.0,453.2 204.0,453.2 205.0,453.2 206.0,453.2 207.0,453.2 208.0,453.2 209.0,453.2 210.0,453.2 211.0,453.2 212.0,453.2 213.0,453.2 214.1,453.2 215.1,453.0 216.2,452.7 217.3,452.6 218.4,452.3 219.4,452.3 220.5,451.9 221.6,451.8 222.6,451.3 223.7,451.2 224.8,451.1 225.9,450.8 226.9,450.2 228.0,449.7 228.8,449.5 229.6,448.5 230.4,447.7 231.3,447.4 232.1,446.2 232.9,446.0 233.3,445.2 233.7,443.9 234.2,442.6 234.6,441.9 235.0,441.5 235.4,440.1 235.9,439.5 236.3,438.1 236.7,437.2 236.9,436.2 237.2,435.2 237.4,434.2 237.7,433.5 237.9,432.7 238.1,431.0 238.4,429.6 238.6,428.8 238.9,427.6 239.1,426.1 239.3,426.1 239.4,424.7 239.6,425.1 239.8,422.8 239.9,421.3 240.1,421.4 240.3,420.2 240.4,419.7 240.6,418.3 240.8,418.3 240.9,415.8 241.1,415.3 241.3,413.9 241.4,412.9 241.6,411.1 241.7,411.6 241.8,409.1 242.0,409.5 242.1,408.5 242.2,407.5 242.3,405.1 242.5,405.8 242.6,403.8 242.7,403.5 242.8,402.0 243.0,402.7 243.1,399.9 243.2,399.1 243.3,398.5 243.5,396.2 243.6,395.9 243.7,395.1 243.8,394.5 244.0,393.0 244.1,393.7 244.2,392.8 244.4,391.2 244.6,389.2 244.7,388.7 244.8,388.8 245.0,387.5 245.2,385.6 245.3,383.5 245.4,383.9 245.6,382.6 245.8,380.9 245.9,379.7 246.1,377.7 246.3,376.5 246.5,375.7 246.7,376.1 246.9,375.0 247.1,373.2 247.3,372.6 247.5,373.1 247.7,369.7 247.9,369.4 248.0,367.7 248.2,369.7 248.3,366.5 248.4,367.2 248.6,365.6 248.7,363.2 248.8,363.5 249.0,362.1 249.1,361.4 249.2,360.1 249.4,359.5 249.5,358.5 249.6,356.2 249.8,356.7 249.9,354.1 250.0,352.6 250.2,352.4 250.3,350.9 250.4,350.0 250.6,348.5 250.7,349.5 250.8,348.5 250.9,345.8 251.1,346.8 251.2,344.3 251.3,342.5 251.5,341.2 251.6,341.7 252.3,339.4 252.7,340.9 253.0,344.8 253.4,343.8 253.7,343.7 254.1,343.8 254.2,345.5 254.4,346.3 254.5,347.4 254.7,346.6 254.8,350.3 254.9,350.0 255.1,354.5 255.2,353.0 255.4,355.2 255.5,355.7 255.7,355.6 255.8,357.6 256.1,358.0 256.4,359.0 256.7,360.4 257.0,359.5 257.3,363.8 257.7,363.9 258.0,364.3 258.4,366.7 258.7,365.5 259.1,365.0 259.2,368.7 259.4,368.7 259.5,370.4 259.7,371.0 259.8,372.3 260.0,372.6 260.1,374.5 260.3,376.2 260.4,376.9 260.6,379.2 260.7,379.2 260.9,380.0 261.0,380.9 261.2,382.2 261.3,382.6 261.5,382.7 261.6,383.9 261.7,384.3 261.9,386.6 262.0,387.9 262.1,389.2 262.2,390.8 262.4,390.5 262.5,390.2 262.6,392.4 262.7,393.9 262.9,393.5 263.0,395.0 263.3,396.1 263.6,399.4 263.8,399.7 264.1,399.3 264.4,400.5 264.7,401.8 264.9,402.9 265.2,403.9 265.5,403.9 265.8,405.0 266.0,407.6 266.2,407.7 266.5,409.4 266.8,409.7 267.0,410.9 267.2,411.9 267.5,412.5 267.8,414.5 268.0,415.2 268.2,415.6 268.5,416.8 268.8,418.6 269.0,418.1 269.2,420.1 269.5,421.3 269.8,422.5 270.0,423.4 270.2,423.2 270.5,425.0 270.9,425.4 271.2,427.0 271.6,427.7 272.0,429.0 272.4,429.3 272.7,430.7 273.1,431.9 273.5,432.9 273.8,434.0 274.2,435.4 274.7,435.1 275.3,436.4 275.8,436.6 276.3,438.4 276.8,439.6 277.4,440.0 277.9,441.2 278.7,442.2 279.6,442.3 280.4,443.2 281.2,443.9 282.1,444.1 282.9,444.6 283.8,445.3 284.8,445.6 285.7,446.4 286.6,446.1 287.6,446.5 288.5,447.0 289.5,447.9 290.4,448.2 291.5,448.6 292.5,448.9 293.6,449.3 294.7,449.6 295.8,450.1 296.8,450.4 297.9,450.8 299.0,451.0 300.0,451.2 301.1,451.3 302.1,451.8 303.2,451.9 304.2,452.0 305.3,451.8 306.4,452.2 307.4,452.4 308.5,452.5 309.6,452.4 310.7,452.7 311.7,453.1 312.8,453.0" fill="none" stroke="#a8a8a8" stroke-width="1.1" stroke-linejoin="round"/>
<path d="M453 309.5V317 M453 371V451" stroke="#9a9a9a" stroke-width="1.2" stroke-dasharray="8 3"/>
<rect x="121.3" y="180.1" width="4.6" height="1.4" fill="#111"/>
<rect x="253.9" y="195.2" width="4.2" height="1.4" fill="#111"/>
<rect x="133.4" y="319.2" width="5.2" height="1.4" fill="#111"/>
<rect x="290.5" y="325.8" width="3.4" height="1.4" fill="#111"/>
<path d="M15.1 28 V135.8 M13.9 375.5 V444 M341 42 V120.4 M340 238.7 V296" stroke="#111" stroke-width="1.4" fill="none"/>
<path d="M15.2 14.9 L20.5 28.8 L9.9 28.8Z M13.3 457.4 L8.7 443.3 L19.1 443.3Z M341 28.7 L346 42.5 L336 42.5Z M340 309 L334.7 295 L345.2 295Z" fill="#111"/>
<g font-family="&quot;Liberation Serif&quot;, serif" text-rendering="geometricPrecision" fill="#111" stroke="#111" stroke-width="0.1">
<text transform="translate(93.80 16.80) scale(0.09947 0.1)" font-size="232.19" stroke-width="0.3">A</text>
<text transform="translate(239.69 17.15) scale(0.08632 0.1)" font-size="226.23" stroke-width="0.3">B</text>
<text transform="translate(434.21 18.83) scale(0.10788 0.1)" font-size="234.18" stroke-width="0.3">C</text>
<text transform="translate(71.79 41.80) scale(0.11085 0.1)" font-size="148.00" stroke-width="1.5">(- substrate)</text>
<text transform="translate(208.59 42.40) scale(0.10956 0.1)" font-size="148.00" stroke-width="1.5">(- substrate)</text>
<text transform="translate(72.35 85.41) scale(0.09482 0.1)" font-size="184.73" stroke-width="1.5">0.9</text>
<text transform="translate(226.95 84.93) scale(0.10133 0.1)" font-size="170.18" stroke-width="1.5">1.1</text>
<text transform="translate(403.54 39.17) scale(0.11650 0.1)" font-size="144.70" stroke-width="1.5">Non-transduced</text>
<text transform="translate(417.79 56.20) scale(0.11113 0.1)" font-size="148.00" stroke-width="1.5">(- substrate)</text>
<text transform="translate(40.53 183.88) scale(0.10451 0.1)" font-size="144.00" stroke-width="1.5">CBE: +</text>
<text transform="translate(47.92 207.48) scale(0.10132 0.1)" font-size="174.55" stroke-width="1.5">3.4</text>
<text transform="translate(111.46 207.82) scale(0.09865 0.1)" font-size="176.00" stroke-width="1.5">29.3</text>
<text transform="translate(194.68 180.90) scale(0.10623 0.1)" font-size="156.00" stroke-width="1.5">Chloroquine:</text>
<text transform="translate(218.26 199.87) scale(0.10061 0.1)" font-size="156.90" stroke-width="1.5">+</text>
<text transform="translate(188.44 222.62) scale(0.10191 0.1)" font-size="176.00" stroke-width="1.5">2.0</text>
<text transform="translate(240.76 222.72) scale(0.09696 0.1)" font-size="177.45" stroke-width="1.5">9.4</text>
<text transform="translate(441.65 183.07) scale(0.10782 0.1)" font-size="145.45" stroke-width="1.5">MFG-GC</text>
<text transform="translate(451.18 200.07) scale(0.11109 0.1)" font-size="148.87" stroke-width="1.5">sorted</text>
<text transform="translate(375.54 210.17) scale(0.11179 0.1)" font-size="147.35" stroke-width="1.5">Non-</text>
<text transform="translate(376.20 226.47) scale(0.11212 0.1)" font-size="148.87" stroke-width="1.5">transduced</text>
<text transform="translate(94.37 325.41) scale(0.10996 0.1)" font-size="161.03" stroke-width="1.5">+</text>
<text transform="translate(69.64 357.81) scale(0.09731 0.1)" font-size="183.27" stroke-width="1.5">9.2</text>
<text transform="translate(143.77 358.02) scale(0.09277 0.1)" font-size="181.82" stroke-width="1.5">62.1</text>
<text transform="translate(247.00 332.19) scale(0.09394 0.1)" font-size="158.97" stroke-width="1.5">+</text>
<text transform="translate(213.77 358.31) scale(0.09301 0.1)" font-size="183.27" stroke-width="1.5">15.1</text>
<text transform="translate(290.55 358.51) scale(0.09539 0.1)" font-size="183.27" stroke-width="1.5">92.0</text>
<text transform="translate(389.24 330.77) scale(0.11220 0.1)" font-size="150.26" stroke-width="1.5">Non-transduced+</text>
<text transform="translate(394.95 348.37) scale(0.10778 0.1)" font-size="147.48" stroke-width="1.5">MFG-GC sorted</text>
<text transform="translate(427.84 366.00) scale(0.09988 0.1)" font-size="146.00" stroke-width="1.5">(7.5:1)</text>
<text transform="translate(462.62 409.62) scale(0.10021 0.1)" font-size="176.73" stroke-width="1.5">12.5%</text>
<text transform="translate(58.20 470.80) scale(0.10617 0.1)" font-size="120.56" stroke-width="1.5">1</text>
<text transform="translate(93.34 470.62) scale(0.11531 0.1)" font-size="117.82" stroke-width="1.5">10</text>
<text transform="translate(127.97 470.62) scale(0.11230 0.1)" font-size="117.82" stroke-width="1.5">100</text>
<text transform="translate(206.43 471.20) scale(0.09290 0.1)" font-size="120.56" stroke-width="1.5">1</text>
<text transform="translate(241.02 471.02) scale(0.10674 0.1)" font-size="117.82" stroke-width="1.5">10</text>
<text transform="translate(275.39 471.02) scale(0.10986 0.1)" font-size="117.82" stroke-width="1.5">100</text>
<text transform="translate(392.23 471.40) scale(0.09647 0.1)" font-size="116.09" stroke-width="1.5">1</text>
<text transform="translate(427.19 471.22) scale(0.11381 0.1)" font-size="113.45" stroke-width="1.5">10</text>
<text transform="translate(463.67 471.22) scale(0.10458 0.1)" font-size="113.45" stroke-width="1.5">100</text>
<text transform="translate(175.12 503.16) scale(0.10967 0.1)" font-size="219.23" stroke-width="0.3">Fluorescein fluorescence</text>
<text transform="translate(20.64 358.18) rotate(-90) scale(0.10726 0.1)" font-size="229.57" stroke-width="0.3">Relative Cell number</text>
<text transform="translate(336.73 125.74) rotate(90) scale(0.11529 0.1)" font-size="146.09" stroke-width="1.5">Non-transduced</text>
<text transform="translate(336.43 338.67) rotate(90) scale(0.10532 0.1)" font-size="146.91" stroke-width="1.5">+ MFG-GC</text>
</g>
</svg>
</body></html>
